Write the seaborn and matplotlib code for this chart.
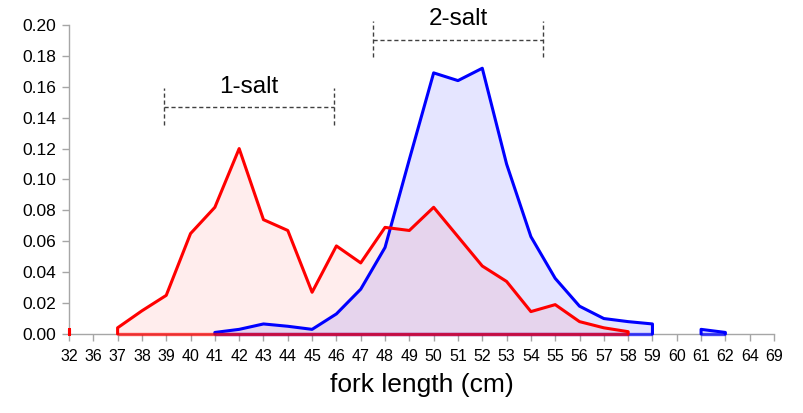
import numpy as np
import pandas as pd
import matplotlib
matplotlib.use('Agg')
import matplotlib.pyplot as plt
import seaborn as sns

# fork length classes (cm) - category axis like the original spreadsheet chart
lengths = ['32', '36'] + [str(v) for v in range(37, 63)] + ['64', '69']
nan = np.nan

# proportion of fish per length class
salt1 = [0.003, nan, 0.004, 0.015, 0.025, 0.065, 0.082, 0.120, 0.074, 0.067,
         0.027, 0.057, 0.046, 0.069, 0.067, 0.082, 0.063, 0.044, 0.034, 0.0145,
         0.019, 0.008, 0.004, 0.0015, nan, nan, nan, nan, nan, nan]
salt2 = [nan, nan, nan, nan, nan, nan, 0.001, 0.003, 0.0065, 0.005,
         0.003, 0.013, 0.029, 0.056, 0.113, 0.169, 0.164, 0.172, 0.110, 0.063,
         0.036, 0.018, 0.010, 0.008, 0.0065, nan, 0.003, 0.001, nan, nan]

series = {'1-salt': salt1, '2-salt': salt2}
colors = {'1-salt': '#ff0000', '2-salt': '#0000ff'}
fills = {'1-salt': (1, 0, 0, 0.07), '2-salt': (0, 0, 1, 0.10)}

sns.set_style('ticks')
plt.rcParams['font.family'] = ['Liberation Sans', 'DejaVu Sans']
plt.rcParams['text.color'] = 'black'
plt.rcParams['axes.labelcolor'] = 'black'

fig = plt.figure(figsize=(8.04, 4.13), dpi=100)
ax = fig.add_axes([0.0858, 0.1913, 0.8769, 0.7482])

# split every series into its contiguous runs, closed down to zero
rows = []
for name in ['2-salt', '1-salt']:
    vals = series[name]
    runs, cur = [], []
    for i, v in enumerate(vals):
        if np.isnan(v):
            if cur:
                runs.append(cur)
            cur = []
        else:
            cur.append(i)
    if cur:
        runs.append(cur)
    for k, run in enumerate(runs):
        xs = [run[0]] + run + [run[-1]]
        ys = [0] + [vals[i] for i in run] + [0]
        for x, y in zip(xs, ys):
            rows.append({'x': x, 'y': y, 'series': name, 'seg': f'{name}-{k}'})
df = pd.DataFrame(rows)

for name in ['2-salt', '1-salt']:
    sub = df[df['series'] == name]
    for seg, part in sub.groupby('seg', sort=False):
        ax.fill_between(part['x'], part['y'], 0, color=fills[name], lw=0)
        ax.plot([part['x'].iloc[0], part['x'].iloc[-1]], [0, 0],
                color=colors[name], alpha=0.7, lw=2.4, clip_on=False,
                solid_capstyle='butt', zorder=3)
    sns.lineplot(data=sub, x='x', y='y', units='seg', estimator=None,
                 sort=False, color=colors[name], lw=2.2, ax=ax, zorder=3)
for ln in ax.lines:
    ln.set_clip_on(False)

# dashed brackets with labels
dash = dict(color='#404040', lw=1.0, ls=(0, (3, 2)), clip_on=False)
ax.plot([3.9, 10.9], [0.147, 0.147], **dash)
ax.plot([3.9, 3.9], [0.135, 0.159], **dash)
ax.plot([10.9, 10.9], [0.135, 0.159], **dash)
ax.text(7.4, 0.153, '1-salt', ha='center', va='bottom', fontsize=17.5)
ax.plot([12.5, 19.5], [0.190, 0.190], **dash)
ax.plot([12.5, 12.5], [0.179, 0.2026], **dash)
ax.plot([19.5, 19.5], [0.179, 0.2026], **dash)
ax.text(16.0, 0.1965, '2-salt', ha='center', va='bottom', fontsize=17.5)

ax.set_xlim(0, len(lengths) - 1)
ax.set_ylim(0, 0.20)
ax.set_xticks(range(len(lengths)))
ax.set_xticklabels(lengths, fontsize=11.5,
                   family=['Liberation Sans Narrow', 'Liberation Sans'])
yt = np.arange(0, 0.201, 0.02)
ax.set_yticks(yt)
ax.set_yticklabels([f'{v:.2f}' for v in yt], fontsize=12.5)
ax.set_xlabel('fork length (cm)', fontsize=19, labelpad=6)
ax.set_ylabel('')

sns.despine(ax=ax)
for s in ['left', 'bottom']:
    ax.spines[s].set_color('#a6a6a6')
    ax.spines[s].set_linewidth(1.0)
ax.tick_params(axis='both', length=5, width=1, labelcolor='black', color='#a6a6a6')
ax.tick_params(axis='x', pad=6)
ax.tick_params(axis='y', pad=4)

fig.savefig('out.png', dpi=100)
